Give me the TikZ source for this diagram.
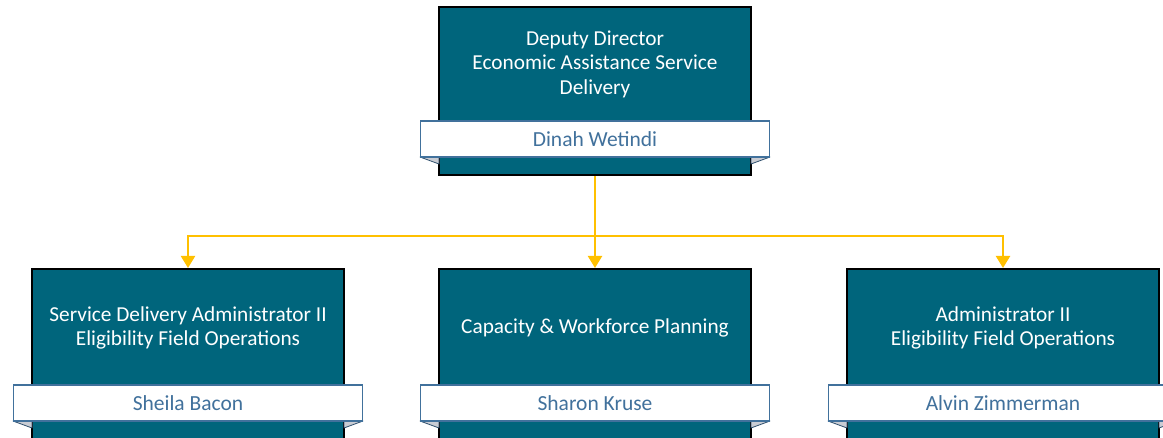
\documentclass[tikz,border=0pt]{standalone}
\usepackage{fontspec}
\setmainfont{Carlito}
\usetikzlibrary{arrows.meta}
\definecolor{teal1}{HTML}{00657C}
\definecolor{namecol}{HTML}{41719C}
\definecolor{gold1}{HTML}{FFC000}
\definecolor{foldcol}{HTML}{C9CCD3}
\tikzset{
  posbox/.style={draw=black, line width=2pt, fill=teal1, minimum width=312pt, inner sep=0pt},
  postext/.style={text=white, align=center, font=\fontsize{21.3}{24.5}\selectfont, inner sep=0pt},
  namebar/.style={draw=namecol, line width=1.4pt, fill=white, minimum width=349pt, minimum height=36pt, inner sep=0pt, text=namecol, font=\fontsize{21.5}{24}\selectfont},
  fold/.style={fill=foldcol, draw=namecol!70!black, line width=0.8pt, line join=round},
  link/.style={draw=gold1, line width=2.2pt},
  linkarrow/.style={link, -{Triangle[length=12pt,width=14pt]}}
}
\begin{document}
\begin{tikzpicture}[x=1pt,y=-1pt]
\useasboundingbox (0,0) rectangle (1163,438);
\clip (0,0) rectangle (1163,438);
% top box
\node[posbox, minimum height=168pt] (top) at (595,91) {};
\node[postext] (toptxt) at (595,64) {Deputy Director\\Economic Assistance Service\\Delivery};
\fill[fold] (420,157) -- (439,157) -- (439,164) -- cycle;
\fill[fold] (770,157) -- (751,157) -- (751,164) -- cycle;
\node[namebar] (topname) at (595,139) {Dinah Wetindi};
% bottom boxes
\foreach \n/\cx in {b1/188, b2/595, b3/1003}{
  \node[posbox, minimum height=180pt] (\n) at (\cx,359) {};
  \fill[fold] (\cx-175,421) -- (\cx-156,421) -- (\cx-156,428) -- cycle;
  \fill[fold] (\cx+175,421) -- (\cx+156,421) -- (\cx+156,428) -- cycle;
}
\node[postext] (b1txt) at (188,328) {Service Delivery Administrator II\\Eligibility Field Operations};
\node[postext] (b2txt) at (595,328) {Capacity \& Workforce Planning};
\node[postext] (b3txt) at (1003,328) {Administrator II\\Eligibility Field Operations};
\node[namebar] (b1name) at (188,403) {Sheila Bacon};
\node[namebar] (b2name) at (595,403) {Sharon Kruse};
\node[namebar] (b3name) at (1003,403) {Alvin Zimmerman};
% connectors
\coordinate (hub) at (595,236);
\draw[link] (top.south) -- (hub);
\draw[linkarrow] (hub) -| (b1.north);
\draw[linkarrow] (hub) -- (b2.north);
\draw[linkarrow] (hub) -| (b3.north);
\end{tikzpicture}
\end{document}
